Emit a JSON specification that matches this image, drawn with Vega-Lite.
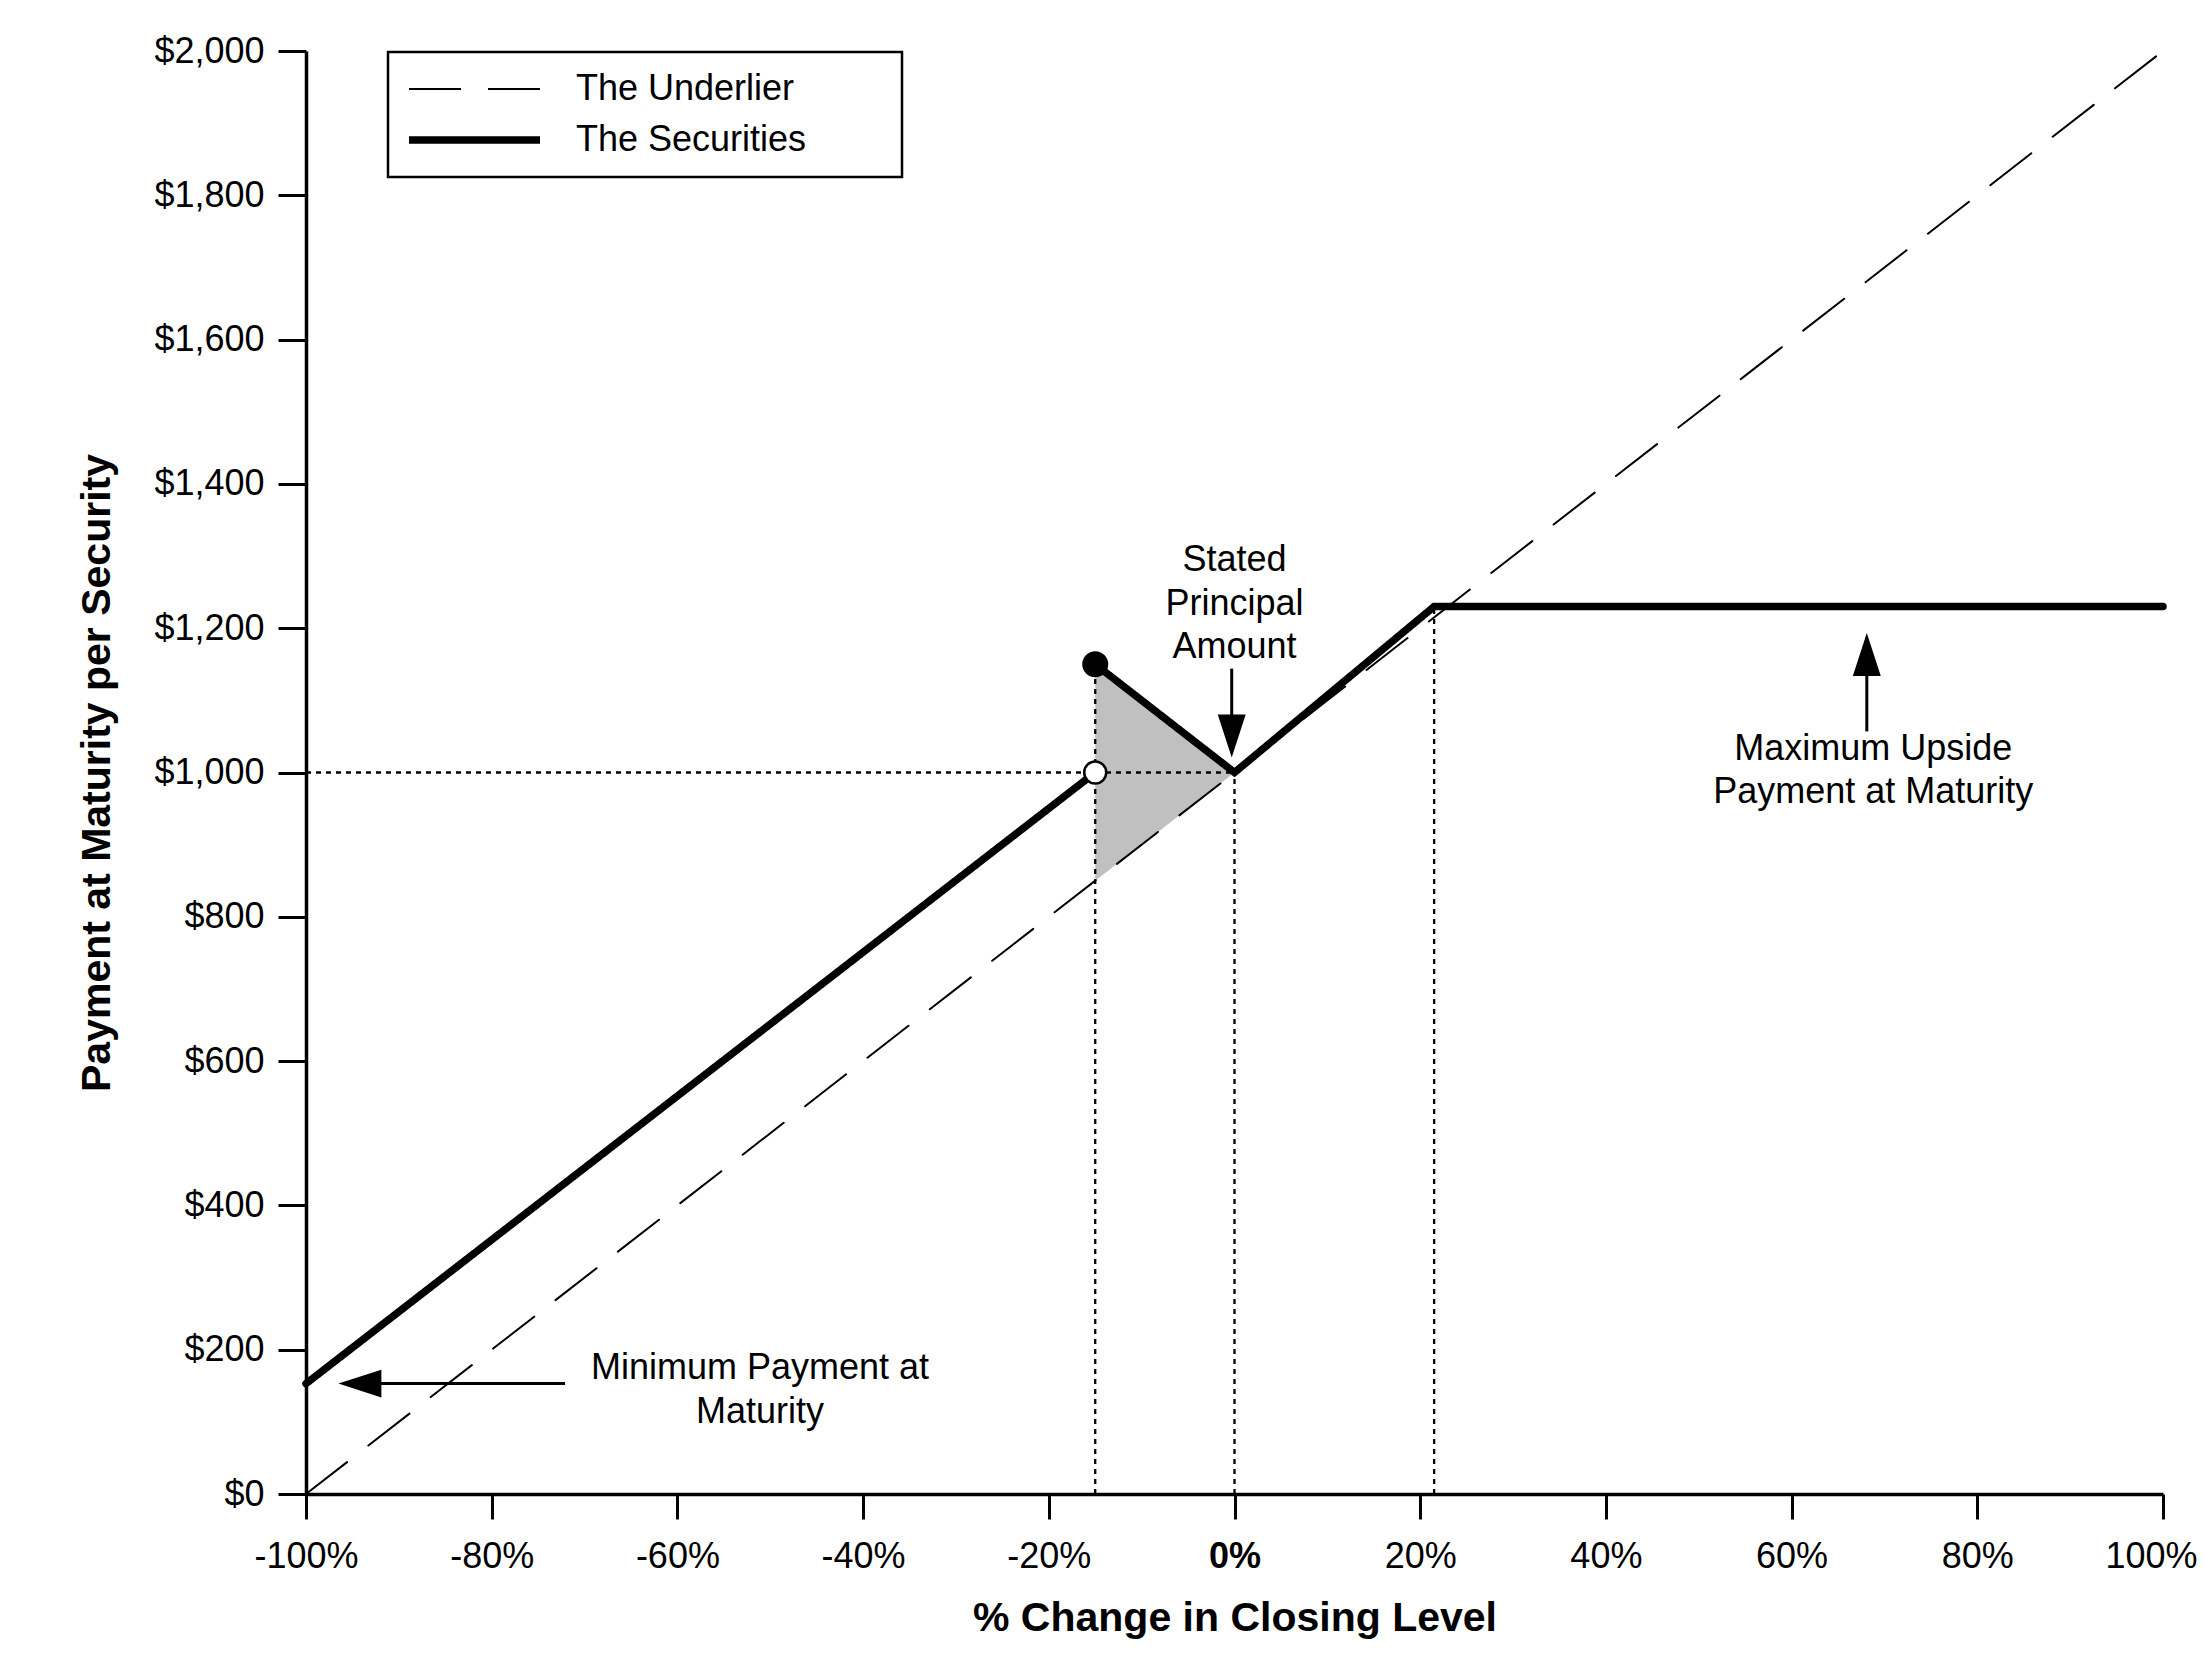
{
  "$schema": "https://vega.github.io/schema/vega-lite/v6.json",
  "autosize": {"type": "none"},
  "width": 1857,
  "height": 1443,
  "padding": {"left": 306, "top": 51, "right": 41, "bottom": 173},
  "background": "white",
  "config": {
    "font": "Liberation Sans",
    "view": {"stroke": null},
    "axis": {
      "grid": false,
      "labelColor": "black",
      "labelFontSize": 36,
      "domainColor": "black",
      "domainWidth": 3.5,
      "tickColor": "black",
      "tickWidth": 3,
      "titleColor": "black",
      "titleFontSize": 41,
      "titleFontWeight": "bold",
      "labelOverlap": false
    }
  },
  "encoding": {
    "x": {
      "field": "x",
      "type": "quantitative",
      "title": "% Change in Closing Level",
      "scale": {"domain": [-100, 100], "nice": false, "zero": false},
      "axis": {
        "values": [-100, -80, -60, -40, -20, 0, 20, 40, 60, 80, 100],
        "labelExpr": "datum.value + '%'",
        "labelFontWeight": {"condition": {"test": "datum.value === 0", "value": "bold"}, "value": "normal"},
        "labelOffset": {"condition": {"test": "datum.value === 100", "value": -12}, "value": 0},
        "labelFlush": false,
        "labelPadding": 20,
        "tickSize": 25,
        "titlePadding": 24
      }
    },
    "y": {
      "field": "y",
      "type": "quantitative",
      "title": "Payment at Maturity per Security",
      "scale": {"domain": [0, 2000], "nice": false, "zero": false},
      "axis": {
        "values": [0, 200, 400, 600, 800, 1000, 1200, 1400, 1600, 1800, 2000],
        "labelExpr": "'$' + format(datum.value, ',')",
        "labelPadding": 14,
        "tickSize": 28,
        "titlePadding": 35
      }
    }
  },
  "layer": [
    {
      "data": {"values": [
        {"x": -15, "y": 850, "y2": 1150},
        {"x": 0, "y": 1000, "y2": 1000}
      ]},
      "mark": {"type": "area", "color": "#c0c0c0", "opacity": 1},
      "encoding": {"y2": {"field": "y2"}}
    },
    {
      "data": {"values": [
        {"x": -100, "x2": 0, "y": 1000, "y2": 1000},
        {"x": -15, "x2": -15, "y": 0, "y2": 1150},
        {"x": 0, "x2": 0, "y": 0, "y2": 1000},
        {"x": 21.5, "x2": 21.5, "y": 0, "y2": 1230}
      ]},
      "mark": {"type": "rule", "color": "black", "strokeWidth": 2.3, "strokeDash": [5, 5]},
      "encoding": {"x2": {"field": "x2"}, "y2": {"field": "y2"}}
    },
    {
      "data": {"values": [
        {"series": "The Underlier", "seg": "u", "x": -100, "y": 0},
        {"series": "The Underlier", "seg": "u", "x": 100, "y": 2000},
        {"series": "The Securities", "seg": "a", "x": -100, "y": 153},
        {"series": "The Securities", "seg": "a", "x": -15, "y": 1000},
        {"series": "The Securities", "seg": "b", "x": -15, "y": 1150},
        {"series": "The Securities", "seg": "b", "x": 0, "y": 1000},
        {"series": "The Securities", "seg": "b", "x": 21.5, "y": 1230},
        {"series": "The Securities", "seg": "b", "x": 100, "y": 1230}
      ]},
      "mark": {"type": "line", "color": "black", "strokeCap": "round", "strokeJoin": "miter"},
      "encoding": {
        "detail": {"field": "seg", "type": "nominal"},
        "strokeDash": {
          "field": "series",
          "type": "nominal",
          "scale": {"domain": ["The Underlier", "The Securities"], "range": [[52, 27], [1, 0]]},
          "legend": {
            "orient": "none", "legendX": 82, "legendY": 1, "title": null,
            "symbolType": "stroke", "symbolSize": 17161, "symbolStrokeColor": "black",
            "labelFontSize": 36, "labelColor": "black", "labelOffset": 32, "labelLimit": 800,
            "labelExpr": "datum.label + '\u2800\u2800\u2800'",
            "padding": 17, "rowPadding": 11, "clipHeight": 40,
            "strokeColor": "black", "fillColor": "white",
            "encode": {"legend": {"update": {"strokeWidth": {"value": 2.5}}}}
          }
        },
        "strokeWidth": {
          "field": "series",
          "type": "nominal",
          "scale": {"type": "point", "domain": ["The Underlier", "The Securities"], "range": [2, 7.5], "padding": 0},
          "legend": {
            "orient": "none", "legendX": 82, "legendY": 1, "title": null,
            "symbolType": "stroke", "symbolSize": 17161, "symbolStrokeColor": "black",
            "labelFontSize": 36, "labelColor": "black", "labelOffset": 32, "labelLimit": 800,
            "labelExpr": "datum.label + '\u2800\u2800\u2800'",
            "padding": 17, "rowPadding": 11, "clipHeight": 40,
            "strokeColor": "black", "fillColor": "white",
            "encode": {"legend": {"update": {"strokeWidth": {"value": 2.5}}}}
          }
        }
      }
    },
    {
      "data": {"values": [
        {"x": -0.3, "x2": -0.3, "y": 1144, "y2": 1060},
        {"x": 68.1, "x2": 68.1, "y": 1057, "y2": 1150},
        {"x": -72.1, "x2": -95, "y": 153, "y2": 153}
      ]},
      "mark": {"type": "rule", "color": "black", "strokeWidth": 3},
      "encoding": {"x2": {"field": "x2"}, "y2": {"field": "y2"}}
    },
    {
      "data": {"values": [
        {"x": -0.3, "y": 1050.6, "dir": "down"},
        {"x": 68.1, "y": 1163.4, "dir": "up"},
        {"x": -94.2, "y": 153, "dir": "left"}
      ]},
      "mark": {"type": "point", "filled": true, "color": "black", "opacity": 1, "size": 1849},
      "encoding": {
        "shape": {
          "field": "dir",
          "type": "nominal",
          "scale": {"domain": ["down", "up", "left"], "range": ["M-0.65,-1L0.65,-1L0,1Z", "M-0.65,1L0.65,1L0,-1Z", "M1,-0.65L1,0.65L-1,0Z"]},
          "legend": null
        }
      }
    },
    {
      "data": {"values": [{"x": -15, "y": 1150}]},
      "mark": {"type": "point", "shape": "circle", "filled": true, "color": "black", "opacity": 1, "size": 676}
    },
    {
      "data": {"values": [{"x": -15, "y": 1000}]},
      "mark": {"type": "point", "shape": "circle", "filled": true, "fill": "white", "stroke": "black", "strokeWidth": 2.5, "opacity": 1, "size": 484}
    },
    {
      "data": {"values": [
        {"x": 0, "y": 1294, "label": "Stated"},
        {"x": 0, "y": 1234, "label": "Principal"},
        {"x": 0, "y": 1174, "label": "Amount"},
        {"x": 68.8, "y": 1033, "label": "Maximum Upside"},
        {"x": 68.8, "y": 973, "label": "Payment at Maturity"},
        {"x": -51.1, "y": 175, "label": "Minimum Payment at"},
        {"x": -51.1, "y": 113, "label": "Maturity"}
      ]},
      "mark": {"type": "text", "fontSize": 36, "color": "black", "align": "center", "baseline": "middle"},
      "encoding": {"text": {"field": "label", "type": "nominal"}}
    }
  ]
}
